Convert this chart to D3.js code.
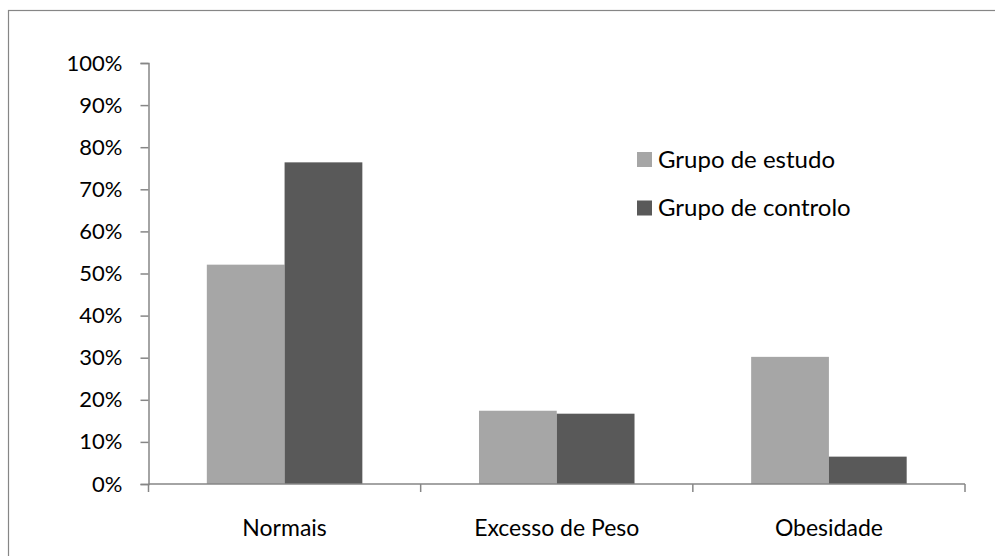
<!DOCTYPE html>
<html>
<head>
<meta charset="utf-8">
<script src="https://cdn.jsdelivr.net/npm/d3@7"></script>
<style>
  html, body { margin: 0; padding: 0; background: #fff; }
  svg { display: block; }
  text { font-family: Lato, "Open Sans", sans-serif; fill: #000; }
</style>
</head>
<body>
<svg id="chart" width="995" height="556"></svg>
<script>
// Distribution of weight classes by group
const categories = ["Normais", "Excesso de Peso", "Obesidade"];
const seriesNames = ["Grupo de estudo", "Grupo de controlo"];
const estudo = [0.521, 0.174, 0.302];
const controlo = [0.764, 0.167, 0.065];
const yTicks = [0, 0.1, 0.2, 0.3, 0.4, 0.5, 0.6, 0.7, 0.8, 0.9, 1.0];
const colors = ["#a6a6a6", "#595959"];

const svg = d3.select("#chart");
const W = 995, H = 556;
const plot = { left: 148.5, right: 965, top: 63, bottom: 484 };
const axisColor = "#868686";

// outer frame of the chart area
svg.append("rect")
  .attr("x", 8.5).attr("y", 10.5)
  .attr("width", W + 20).attr("height", H + 20)
  .attr("fill", "none").attr("stroke", axisColor).attr("stroke-width", 1.2);

const y = d3.scaleLinear().domain([0, 1]).range([plot.bottom, plot.top]);
const x = d3.scaleBand().domain(categories).range([plot.left, plot.right]).padding(0);
const xs = d3.scaleBand().domain(seriesNames).range([0, x.bandwidth()])
  .paddingInner(0).paddingOuter(0.75);

const rows = categories.map((c, i) => ({ cat: c, values: [estudo[i], controlo[i]] }));

// bars
const groups = svg.append("g").selectAll("g").data(rows).join("g")
  .attr("transform", d => `translate(${x(d.cat)},0)`);
groups.selectAll("rect")
  .data(d => d.values.map((v, j) => ({ name: seriesNames[j], v, j })))
  .join("rect")
  .attr("x", d => xs(d.name))
  .attr("width", xs.bandwidth())
  .attr("y", d => y(d.v))
  .attr("height", d => y(0) - y(d.v))
  .attr("fill", d => colors[d.j]);

// y axis
const yAxis = d3.axisLeft(y).tickValues(yTicks).tickFormat(d3.format(".0%"))
  .tickSize(8).tickPadding(18);
const gy = svg.append("g").attr("transform", `translate(${plot.left},0)`).call(yAxis);
gy.select(".domain").attr("stroke", axisColor).attr("stroke-width", 1.5);
gy.selectAll(".tick line").attr("stroke", axisColor).attr("stroke-width", 1.5);
gy.selectAll(".tick text").style("font-size", "22px").attr("fill", "#000");

// x axis with category boundary ticks
const gx = svg.append("g").attr("transform", `translate(0,${plot.bottom})`);
gx.append("line")
  .attr("x1", plot.left).attr("x2", plot.right)
  .attr("stroke", axisColor).attr("stroke-width", 1.5);
const bounds = categories.map(c => x(c)).concat([plot.right]);
gx.selectAll("line.tk").data(bounds).join("line").attr("class", "tk")
  .attr("x1", d => d).attr("x2", d => d).attr("y1", 0).attr("y2", 8)
  .attr("stroke", axisColor).attr("stroke-width", 1.5);
gx.selectAll("text").data(categories).join("text")
  .attr("x", d => x(d) + x.bandwidth() / 2)
  .attr("y", 51.5)
  .attr("text-anchor", "middle")
  .style("font-size", "23px")
  .text(d => d);

// legend
const legend = svg.append("g").attr("transform", "translate(637,152)");
const li = legend.selectAll("g").data(seriesNames).join("g")
  .attr("transform", (d, i) => `translate(0,${i * 48.5})`);
li.append("rect").attr("width", 15).attr("height", 15)
  .attr("fill", (d, i) => colors[i]);
li.append("text").attr("x", 21).attr("y", 7.5).attr("dy", "0.35em")
  .style("font-size", "24px").text(d => d);
</script>
</body>
</html>
